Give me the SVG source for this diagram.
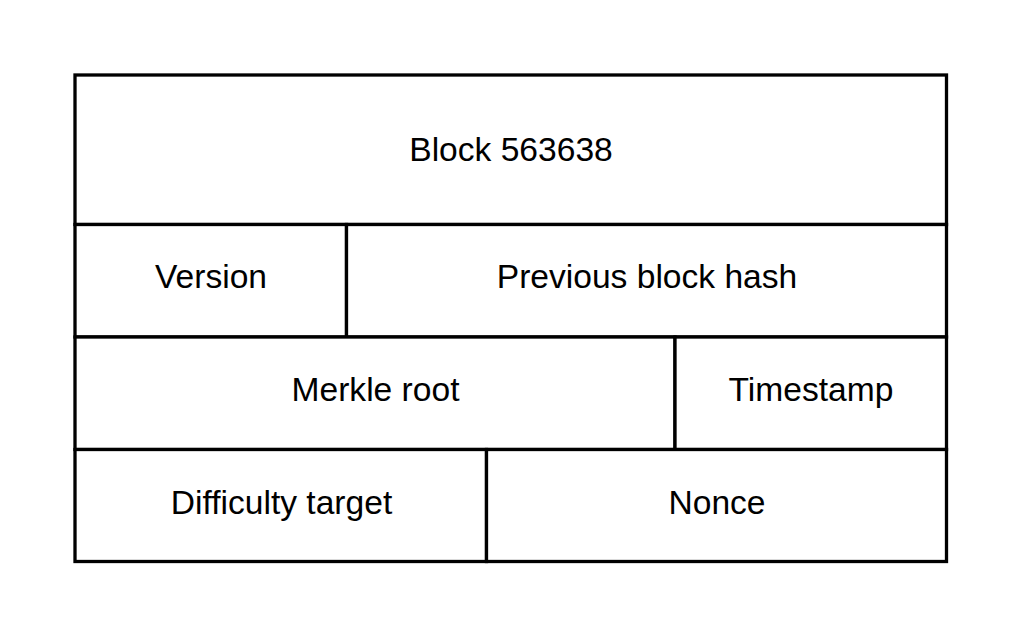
<svg xmlns="http://www.w3.org/2000/svg" width="1022" height="638" viewBox="0 0 1022 638">
<style>
.cell{fill:#ffffff;stroke:#000000;stroke-width:3.3}
.lbl{font-family:"Liberation Sans",Arial,sans-serif;font-size:33.6px;fill:#000000;text-anchor:middle}
</style>
<rect width="1022" height="638" fill="#ffffff"/>
<g id="block"><rect class="cell" x="75" y="75" width="871.5" height="149.5"/><text class="lbl" x="511" y="160.5">Block 563638</text></g>
<g id="version"><rect class="cell" x="75" y="224.5" width="271.5" height="112.5"/><text class="lbl" x="211" y="287.5">Version</text></g>
<g id="prevhash"><rect class="cell" x="346.5" y="224.5" width="600" height="112.5"/><text class="lbl" x="647" y="287.5">Previous block hash</text></g>
<g id="merkle"><rect class="cell" x="75" y="337" width="600" height="112.5"/><text class="lbl" x="375.5" y="400.5">Merkle root</text></g>
<g id="timestamp"><rect class="cell" x="675" y="337" width="271.5" height="112.5"/><text class="lbl" x="811" y="400.5">Timestamp</text></g>
<g id="difficulty"><rect class="cell" x="75" y="449.5" width="411.5" height="112"/><text class="lbl" x="281.5" y="513.5">Difficulty target</text></g>
<g id="nonce"><rect class="cell" x="486.5" y="449.5" width="460" height="112"/><text class="lbl" x="717" y="513.5">Nonce</text></g>
<g id="connectors"></g>
</svg>
